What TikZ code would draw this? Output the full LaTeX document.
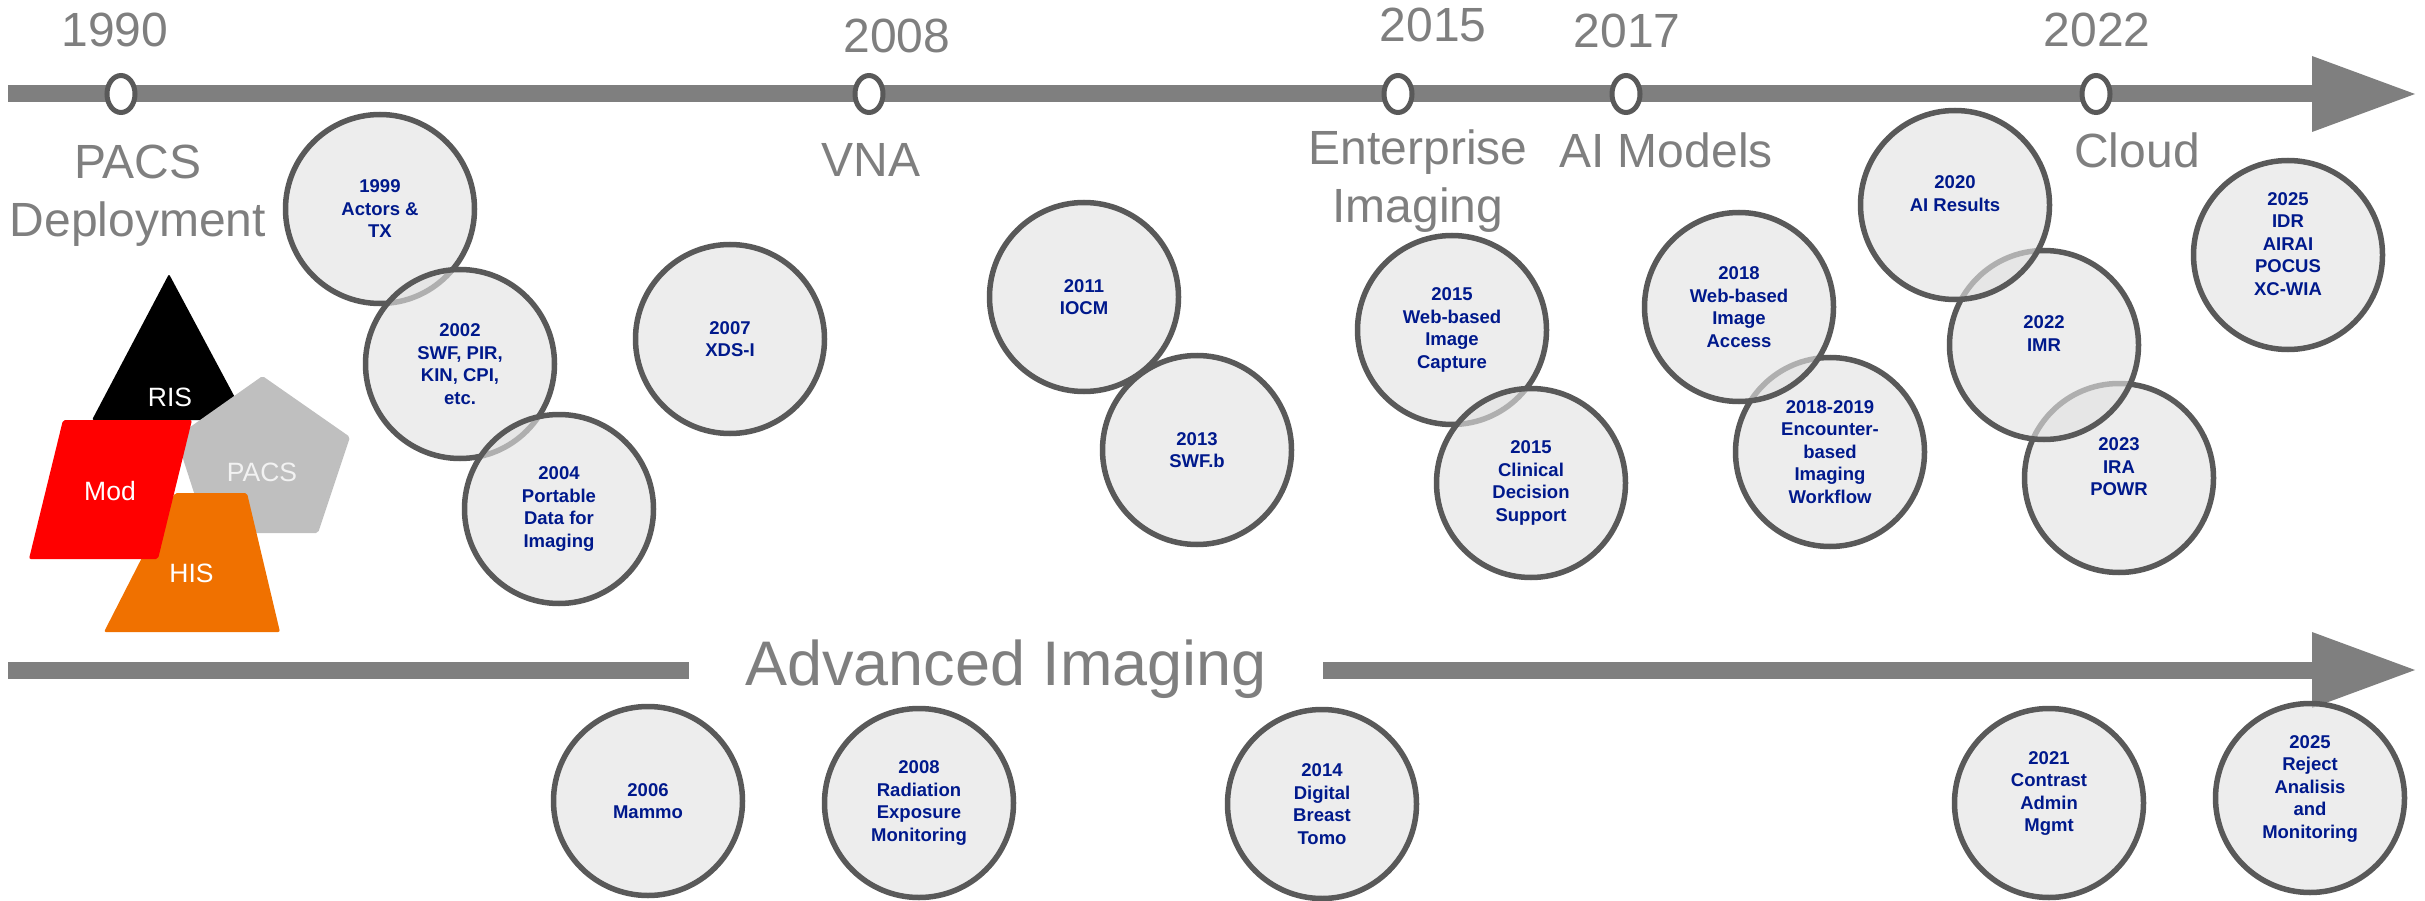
\documentclass[tikz,border=0pt]{standalone}
\usepackage{fontspec}
\setmainfont{Liberation Sans}
\usepackage{tikz}
\usetikzlibrary{arrows.meta,shapes.geometric}

\definecolor{bargray}{HTML}{7F7F7F}
\definecolor{ringgray}{HTML}{595959}
\definecolor{discgray}{HTML}{E2E2E2}
\definecolor{evblue}{RGB}{0,25,140}
\definecolor{hisorange}{RGB}{240,113,0}
\definecolor{pacsgray}{HTML}{BFBFBF}
\definecolor{pacstext}{HTML}{F2F2F2}

\tikzset{
  bar/.style={draw=bargray,line width=17pt},
  bighead/.style={-{Triangle[length=103pt,width=76pt,line width=0pt]}},
  yearpin/.style={ellipse,draw=ringgray,line width=5pt,fill=white,minimum width=28pt,minimum height=37pt,inner sep=0pt},
  era/.style={text=bargray,font=\fontsize{48}{58}\selectfont,align=center,anchor=base,inner sep=0pt},
  event/.style={circle,draw=ringgray,line width=5.5pt,fill=discgray,fill opacity=0.63,text opacity=1,minimum size=189pt,inner sep=0pt,align=center,text=evblue,font=\fontsize{18.5}{22.5}\selectfont\bfseries},
  sys/.style={text=white,font=\fontsize{26.5}{30}\selectfont,anchor=base,inner sep=0pt}
}

\begin{document}
\begin{tikzpicture}[x=1pt,y=-1pt]
\useasboundingbox (0,0) rectangle (2425,901);

% timelines
\coordinate (tl) at (8,94); \coordinate (tr) at (2415,94);
\coordinate (bl) at (8,670); \coordinate (br) at (2415,670);
\draw[bar,bighead] (tl) -- (tr);
\node[era,font=\fontsize{63}{75}\selectfont,inner xsep=56pt] (adv) at (1006,685) {Advanced Imaging};
\draw[bar] (bl) -- (bl -| adv.west);
\draw[bar,bighead] (bl -| adv.east) -- (br);

% milestones
\node[yearpin] (p1990) at (121,94) {};
\node[yearpin] (p2008) at (869,94) {};
\node[yearpin] (p2015) at (1398,94) {};
\node[yearpin] (p2017) at (1626,94) {};
\node[yearpin] (p2022) at (2096,94) {};
\node[era] (y1990) at (115,47) {1990};
\node[era] (y2008) at (897,53) {2008};
\node[era] (y2015) at (1433,41.5) {2015};
\node[era] (y2017) at (1627,48) {2017};
\node[era] (y2022) at (2097,46.5) {2022};
\node[era] (pacs) at (138,237) {PACS\\Deployment};
\node[era] (vna) at (871,177) {VNA};
\node[era] (ent) at (1418,223) {Enterprise\\Imaging};
\node[era] (aim) at (1666,168) {AI Models};
\node[era] (cloud) at (2137,168) {Cloud};

% systems
\fill[black,rounded corners=2pt] (169,274) -- (247,420) -- (92,420) -- cycle;
\fill[pacsgray,rounded corners=2pt] (262.5,376) -- (350,437) -- (318,533) -- (207,533) -- (176,437) -- cycle;
\fill[hisorange,rounded corners=2pt] (175,493) -- (247,493) -- (280,632) -- (104,632) -- cycle;
\fill[red,rounded corners=2pt] (63,420) -- (192,420) -- (158,559) -- (29,559) -- cycle;
\node[sys] (ris) at (170,406) {RIS};
\node[sys] (mod) at (110,500) {Mod};
\node[sys,text=pacstext] (pacsbox) at (262,481) {PACS};
\node[sys] (his) at (191.5,582) {HIS};

% profiles
\node[event] (e1999) at (380,209) {1999\\Actors \&\\TX};
\node[event] (e2002) at (460,364) {2002\\SWF, PIR,\\KIN, CPI,\\etc.};
\node[event] (e2004) at (559,509) {2004\\Portable\\Data for\\Imaging};
\node[event] (e2007) at (730,339) {2007\\XDS-I};
\node[event] (e2011) at (1084,297) {2011\\IOCM};
\node[event] (e2013) at (1197,450) {2013\\SWF.b};
\node[event] (e2015a) at (1452,330) {2015\\Web-based\\Image\\Capture};
\node[event] (e2015b) at (1531,483) {2015\\Clinical\\Decision\\Support};
\node[event] (e2019) at (1830,452) {2018-2019\\Encounter-\\based\\Imaging\\Workflow};
\node[event] (e2018) at (1739,307) {2018\\Web-based\\Image\\Access};
\node[event] (e2023) at (2119,478) {2023\\IRA\\POWR\\\mbox{}};
\node[event] (e2022) at (2044,345) {2022\\IMR\\\mbox{}};
\node[event] (e2020) at (1955,205) {2020\\AI Results\\\mbox{}};
\node[event] (e2025) at (2288,255) {2025\\IDR\\AIRAI\\POCUS\\XC-WIA\\\mbox{}};
\node[event] (e2006) at (648,801) {2006\\Mammo};
\node[event] (e2008) at (919,803) {2008\\Radiation\\Exposure\\Monitoring};
\node[event] (e2014) at (1322,804) {2014\\Digital\\Breast\\Tomo};
\node[event] (e2021) at (2049,803) {2021\\Contrast\\Admin\\Mgmt\\\mbox{}};
\node[event] (e2025b) at (2310,798) {2025\\Reject\\Analisis\\and\\Monitoring\\\mbox{}};
\end{tikzpicture}
\end{document}
